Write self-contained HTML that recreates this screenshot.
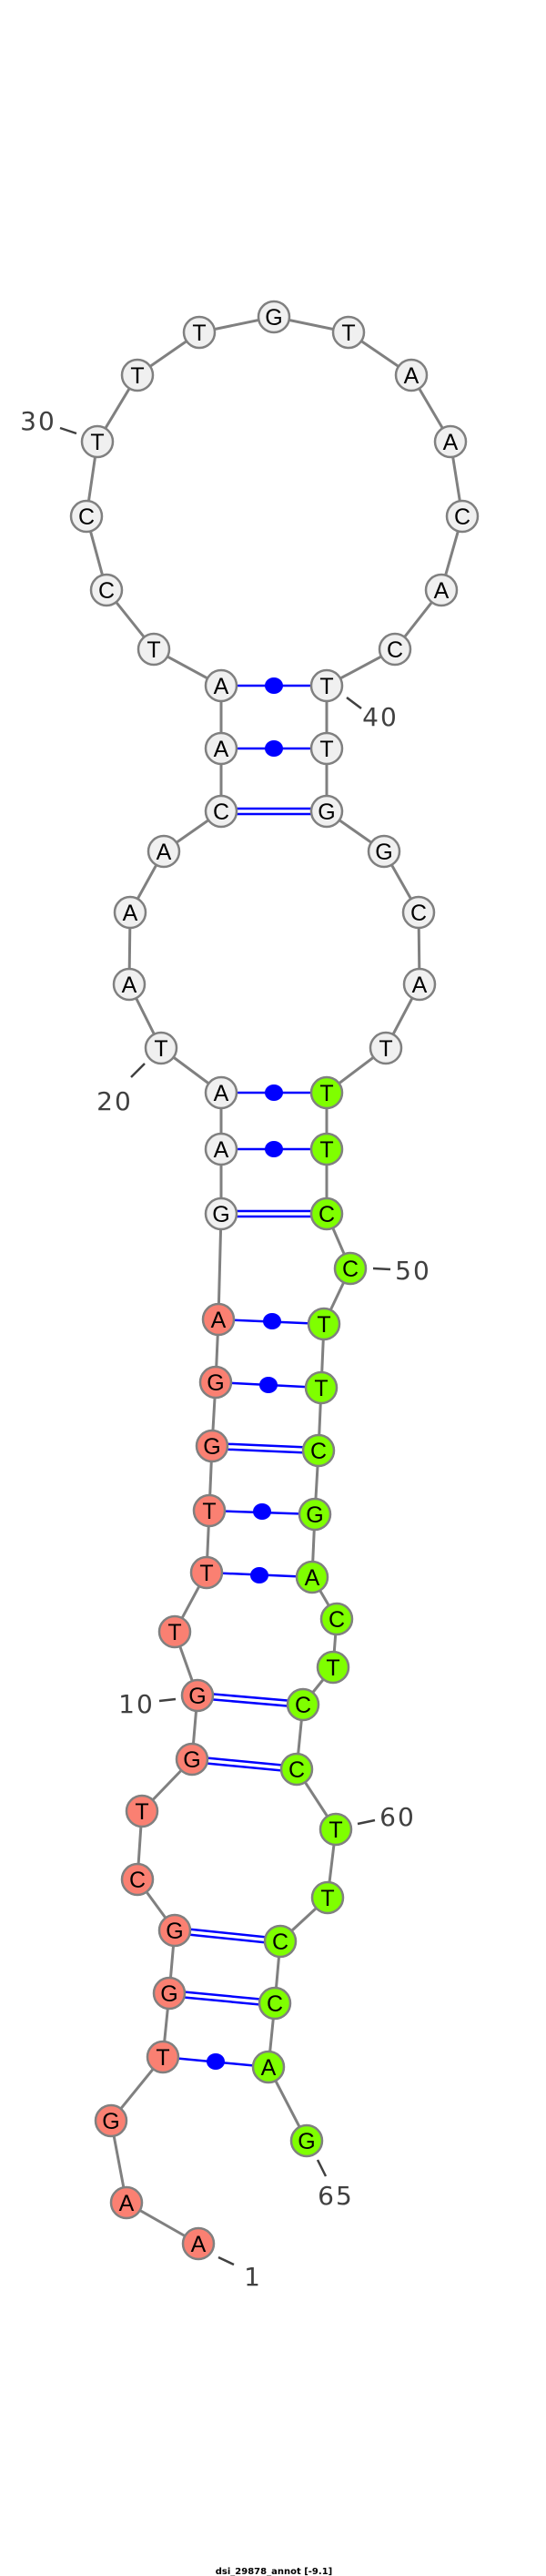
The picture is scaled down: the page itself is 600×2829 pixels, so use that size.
<!DOCTYPE html>
<html><head><style>html,body{margin:0;padding:0;background:#fff}svg{display:block}</style></head><body>
<svg width="600" height="2829" xmlns="http://www.w3.org/2000/svg">
<g stroke="#808080" stroke-width="3" fill="none">
<polyline points="218,2464 139,2419 122,2329 179,2259 186,2189 192,2120 151,2064 156,1989 211,1932 217,1862 192,1792 227,1727 230,1659 233,1588 237,1518 240,1449 243,1333 243,1262 243,1200 177,1151 142,1081 143,1002 180,935 243,891 243,822 243,753 169,713 117,648 95,567 107,485 151,412 219,365 301,348 383,365 452,412 495,485 508,567 485,648 434,713 359,753 359,822 359,891 422,935 460,1002 461,1081 424,1151 359,1200 359,1262 359,1333 385,1393 356,1454 353,1524 350,1593 346,1663 343,1732 370,1778 366,1831 333,1872 326,1943 369,2009 360,2084 308,2132 302,2200 295,2270 337,2351"/>
</g>
<g stroke="#0000ff" stroke-width="2.5">
<line x1="243" y1="753" x2="359" y2="753"/>
<line x1="243" y1="822" x2="359" y2="822"/>
<line x1="243" y1="1200" x2="359" y2="1200"/>
<line x1="243" y1="1262" x2="359" y2="1262"/>
<line x1="240" y1="1449" x2="356" y2="1454"/>
<line x1="237" y1="1518" x2="353" y2="1524"/>
<line x1="230" y1="1659" x2="346" y2="1663"/>
<line x1="227" y1="1727" x2="343" y2="1732"/>
<line x1="179" y1="2259" x2="295" y2="2270"/>
<line x1="243" y1="888" x2="359" y2="888"/><line x1="243" y1="894" x2="359" y2="894"/>
<line x1="243" y1="1330" x2="359" y2="1330"/><line x1="243" y1="1336" x2="359" y2="1336"/>
<line x1="233" y1="1585" x2="350" y2="1590"/><line x1="233" y1="1591" x2="350" y2="1596"/>
<line x1="217" y1="1859" x2="333" y2="1869"/><line x1="217" y1="1865" x2="333" y2="1875"/>
<line x1="211" y1="1929" x2="326" y2="1940"/><line x1="211" y1="1935" x2="326" y2="1946"/>
<line x1="192" y1="2117" x2="308" y2="2129"/><line x1="192" y1="2123" x2="308" y2="2135"/>
<line x1="186" y1="2186" x2="302" y2="2197"/><line x1="186" y1="2192" x2="302" y2="2203"/>
</g>
<g fill="#0000ff">
<ellipse cx="301" cy="753" rx="10" ry="9"/>
<ellipse cx="301" cy="822" rx="10" ry="9"/>
<ellipse cx="301" cy="1200" rx="10" ry="9"/>
<ellipse cx="301" cy="1262" rx="10" ry="9"/>
<ellipse cx="299" cy="1451" rx="10" ry="9"/>
<ellipse cx="295" cy="1521" rx="10" ry="9"/>
<ellipse cx="288" cy="1660" rx="10" ry="9"/>
<ellipse cx="285" cy="1730" rx="10" ry="9"/>
<ellipse cx="237" cy="2264" rx="10" ry="9"/>
</g>
<g stroke="#808080" stroke-width="2.5" font-family="Liberation Sans, sans-serif" font-size="25" text-anchor="middle">
<g fill="#fa8072">
<circle cx="218" cy="2464" r="17"/><circle cx="139" cy="2419" r="17"/><circle cx="122" cy="2329" r="17"/><circle cx="179" cy="2259" r="17"/><circle cx="186" cy="2189" r="17"/><circle cx="192" cy="2120" r="17"/><circle cx="151" cy="2064" r="17"/><circle cx="156" cy="1989" r="17"/><circle cx="211" cy="1932" r="17"/><circle cx="217" cy="1862" r="17"/><circle cx="192" cy="1792" r="17"/><circle cx="227" cy="1727" r="17"/><circle cx="230" cy="1659" r="17"/><circle cx="233" cy="1588" r="17"/><circle cx="237" cy="1518" r="17"/><circle cx="240" cy="1449" r="17"/>
</g>
<g fill="#f0f0f0">
<circle cx="243" cy="1333" r="17"/><circle cx="243" cy="1262" r="17"/><circle cx="243" cy="1200" r="17"/><circle cx="177" cy="1151" r="17"/><circle cx="142" cy="1081" r="17"/><circle cx="143" cy="1002" r="17"/><circle cx="180" cy="935" r="17"/><circle cx="243" cy="891" r="17"/><circle cx="243" cy="822" r="17"/><circle cx="243" cy="753" r="17"/><circle cx="169" cy="713" r="17"/><circle cx="117" cy="648" r="17"/><circle cx="95" cy="567" r="17"/><circle cx="107" cy="485" r="17"/><circle cx="151" cy="412" r="17"/><circle cx="219" cy="365" r="17"/><circle cx="301" cy="348" r="17"/><circle cx="383" cy="365" r="17"/><circle cx="452" cy="412" r="17"/><circle cx="495" cy="485" r="17"/><circle cx="508" cy="567" r="17"/><circle cx="485" cy="648" r="17"/><circle cx="434" cy="713" r="17"/><circle cx="359" cy="753" r="17"/><circle cx="359" cy="822" r="17"/><circle cx="359" cy="891" r="17"/><circle cx="422" cy="935" r="17"/><circle cx="460" cy="1002" r="17"/><circle cx="461" cy="1081" r="17"/><circle cx="424" cy="1151" r="17"/>
</g>
<g fill="#7fff00">
<circle cx="359" cy="1200" r="17"/><circle cx="359" cy="1262" r="17"/><circle cx="359" cy="1333" r="17"/><circle cx="385" cy="1393" r="17"/><circle cx="356" cy="1454" r="17"/><circle cx="353" cy="1524" r="17"/><circle cx="350" cy="1593" r="17"/><circle cx="346" cy="1663" r="17"/><circle cx="343" cy="1732" r="17"/><circle cx="370" cy="1778" r="17"/><circle cx="366" cy="1831" r="17"/><circle cx="333" cy="1872" r="17"/><circle cx="326" cy="1943" r="17"/><circle cx="369" cy="2009" r="17"/><circle cx="360" cy="2084" r="17"/><circle cx="308" cy="2132" r="17"/><circle cx="302" cy="2200" r="17"/><circle cx="295" cy="2270" r="17"/><circle cx="337" cy="2351" r="17"/>
</g>
<g fill="#000" stroke="none">
<text x="218" y="2473">A</text><text x="139" y="2428">A</text><text x="122" y="2338">G</text><text x="179" y="2268">T</text><text x="186" y="2198">G</text><text x="192" y="2129">G</text><text x="151" y="2073">C</text><text x="156" y="1998">T</text><text x="211" y="1941">G</text><text x="217" y="1871">G</text><text x="192" y="1801">T</text><text x="227" y="1736">T</text><text x="230" y="1668">T</text><text x="233" y="1597">G</text><text x="237" y="1527">G</text><text x="240" y="1458">A</text>
<text x="243" y="1342">G</text><text x="243" y="1271">A</text><text x="243" y="1209">A</text><text x="177" y="1160">T</text><text x="142" y="1090">A</text><text x="143" y="1011">A</text><text x="180" y="944">A</text><text x="243" y="900">C</text><text x="243" y="831">A</text><text x="243" y="762">A</text><text x="169" y="722">T</text><text x="117" y="657">C</text><text x="95" y="576">C</text><text x="107" y="494">T</text><text x="151" y="421">T</text><text x="219" y="374">T</text><text x="301" y="357">G</text><text x="383" y="374">T</text><text x="452" y="421">A</text><text x="495" y="494">A</text><text x="508" y="576">C</text><text x="485" y="657">A</text><text x="434" y="722">C</text><text x="359" y="762">T</text><text x="359" y="831">T</text><text x="359" y="900">G</text><text x="422" y="944">G</text><text x="460" y="1011">C</text><text x="461" y="1090">A</text><text x="424" y="1160">T</text>
<text x="359" y="1209">T</text><text x="359" y="1271">T</text><text x="359" y="1342">C</text><text x="385" y="1402">C</text><text x="356" y="1463">T</text><text x="353" y="1533">T</text><text x="350" y="1602">C</text><text x="346" y="1672">G</text><text x="343" y="1741">A</text><text x="370" y="1787">C</text><text x="366" y="1840">T</text><text x="333" y="1881">C</text><text x="326" y="1952">C</text><text x="369" y="2018">T</text><text x="360" y="2093">T</text><text x="308" y="2141">C</text><text x="302" y="2209">C</text><text x="295" y="2279">A</text><text x="337" y="2360">G</text>
</g>
</g>
<g stroke="#404040" stroke-width="2.5">
<line x1="66" y1="470" x2="84" y2="476"/>
<line x1="381" y1="766" x2="397" y2="778"/>
<line x1="144" y1="1183" x2="159" y2="1168"/>
<line x1="410" y1="1393" x2="429" y2="1394"/>
<line x1="175" y1="1868" x2="193" y2="1866"/>
<line x1="393" y1="2003" x2="412" y2="1999"/>
<line x1="349" y1="2372" x2="358" y2="2390"/>
<line x1="240" y1="2479" x2="257" y2="2487"/>
</g>
<g fill="#404040" font-family="DejaVu Sans, sans-serif" font-size="28" text-anchor="middle" letter-spacing="2">
<text x="42" y="472">30</text>
<text x="418" y="797">40</text>
<text x="126" y="1219">20</text>
<text x="454" y="1405">50</text>
<text x="150" y="1881">10</text>
<text x="437" y="2005">60</text>
<text x="369" y="2421">65</text>
<text x="278" y="2510">1</text>
</g>
<text x="301" y="2827" font-family="DejaVu Sans, sans-serif" font-size="10" font-weight="bold" text-anchor="middle" fill="#000">dsi_29878_annot [-9.1]</text>
</svg>
</body></html>
